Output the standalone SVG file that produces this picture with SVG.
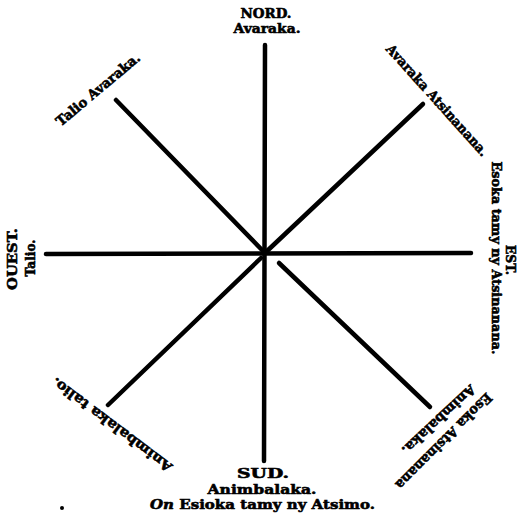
<svg xmlns="http://www.w3.org/2000/svg" width="520" height="516" viewBox="0 0 520 516">
<style>
.t{font-family:"DejaVu Serif","Liberation Serif",serif;font-weight:bold;font-size:13.5px;fill:#000;stroke:#000;stroke-width:0.6px;text-anchor:middle}
.ln{stroke:#000;stroke-width:4.5;stroke-linecap:round;fill:none}
</style>
<rect width="520" height="516" fill="#fff"/>
<g id="connectors">
<line class="ln" x1="265" y1="45" x2="264" y2="461"/>
<line class="ln" x1="46" y1="254" x2="471" y2="253"/>
<line class="ln" x1="116" y1="100" x2="264" y2="252"/>
<line class="ln" x1="423" y1="104" x2="266" y2="252"/>
<line class="ln" x1="108" y1="405" x2="261" y2="258"/>
<line class="ln" x1="279" y1="263" x2="430" y2="407"/>
</g>
<g id="nord">
<text class="t" x="266" y="18" textLength="51" lengthAdjust="spacingAndGlyphs">NORD.</text>
<text class="t" x="267" y="33" textLength="67" lengthAdjust="spacingAndGlyphs">Avaraka.</text>
</g>
<g id="nord-ouest">
<text class="t" transform="translate(101,93) rotate(-40)" textLength="105" lengthAdjust="spacingAndGlyphs">Talio Avaraka.</text>
</g>
<g id="nord-est">
<text class="t" transform="translate(433.8,103.3) rotate(48)" textLength="145" lengthAdjust="spacingAndGlyphs">Avaraka Atsinanana.</text>
</g>
<g id="est">
<text class="t" transform="translate(491.5,258) rotate(90)" textLength="193" lengthAdjust="spacingAndGlyphs">Esoka tamy ny Atsinanana.</text>
<text class="t" transform="translate(505.5,260) rotate(90)" textLength="30" lengthAdjust="spacingAndGlyphs">EST.</text>
</g>
<g id="ouest">
<text class="t" transform="translate(17,259) rotate(-90)" textLength="62" lengthAdjust="spacingAndGlyphs">OUEST.</text>
<text class="t" transform="translate(34.5,258) rotate(-90)" textLength="37" lengthAdjust="spacingAndGlyphs">Talio.</text>
</g>
<g id="sud-ouest">
<text class="t" transform="translate(114.5,421) rotate(217)" textLength="147" lengthAdjust="spacingAndGlyphs">Animbalaka talio.</text>
</g>
<g id="sud-est">
<text class="t" transform="translate(440.5,438) rotate(135)" textLength="130" lengthAdjust="spacingAndGlyphs">Esoka Atsinanana</text>
<text class="t" transform="translate(435.5,416.5) rotate(137)" textLength="95" lengthAdjust="spacingAndGlyphs">Animbalaka.</text>
</g>
<g id="sud">
<text class="t" x="263" y="478" textLength="52" lengthAdjust="spacingAndGlyphs">SUD.</text>
<text class="t" x="262" y="494" textLength="109" lengthAdjust="spacingAndGlyphs">Animbalaka.</text>
<text class="t" x="262.5" y="509" textLength="225" lengthAdjust="spacingAndGlyphs"><tspan font-style="italic">On</tspan> Esioka tamy ny Atsimo.</text>
</g>
<circle cx="62" cy="508" r="2" fill="#000"/>
</svg>
